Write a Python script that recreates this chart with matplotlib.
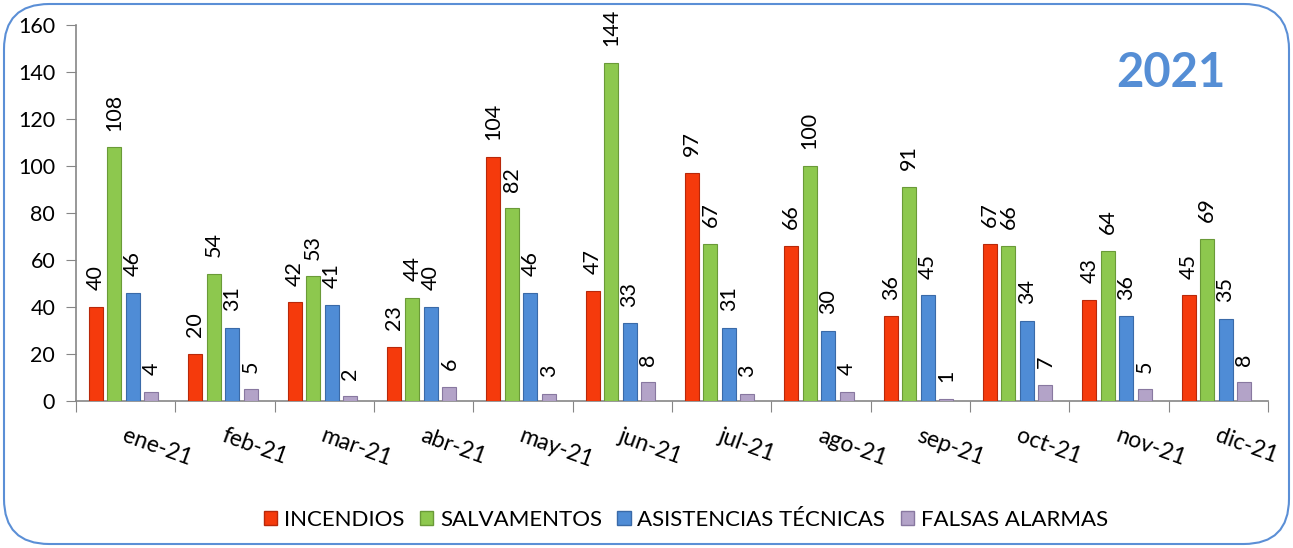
import matplotlib
matplotlib.use("Agg")
import matplotlib.pyplot as plt
import numpy as np
from matplotlib.patches import FancyBboxPatch, Patch
import matplotlib.transforms as mtransforms

months = ["ene-21", "feb-21", "mar-21", "abr-21", "may-21", "jun-21",
          "jul-21", "ago-21", "sep-21", "oct-21", "nov-21", "dic-21"]
series_names = ["INCENDIOS", "SALVAMENTOS", "ASISTENCIAS TÉCNICAS", "FALSAS ALARMAS"]
incendios = [40, 20, 42, 23, 104, 47, 97, 66, 36, 67, 43, 45]
salvamentos = [108, 54, 53, 44, 82, 144, 67, 100, 91, 66, 64, 69]
asistencias = [46, 31, 41, 40, 46, 33, 31, 30, 45, 34, 36, 35]
falsas = [4, 5, 2, 6, 3, 8, 3, 4, 1, 7, 5, 8]
yticks = [0, 20, 40, 60, 80, 100, 120, 140, 160]
title = "2021"

colors = ["#F53A0C", "#8DC84E", "#4F8CD6", "#B3A3C8"]
edges = ["#B8280A", "#6A9A38", "#3A6AA8", "#8878A0"]

plt.rcParams['font.family'] = ['Lato', 'DejaVu Sans']

fig = plt.figure(figsize=(12.93, 5.48), dpi=100)
ax = fig.add_axes([76/1293, 1-401/548, (1268-76)/1293, (401-25)/548])

data = [incendios, salvamentos, asistencias, falsas]
x = np.arange(len(months))
bw = 0.14
step = 0.186
for i, (vals, c, ec) in enumerate(zip(data, colors, edges)):
    pos = x + (i - 1.5) * step - 0.02
    bars = ax.bar(pos, vals, width=bw, color=c, edgecolor=ec, linewidth=0.8, zorder=3)
    for b, v in zip(bars, vals):
        ax.annotate(str(v), (b.get_x() + b.get_width()/2, v), xytext=(0, 12),
                    textcoords="offset points", rotation=90, ha="center", va="bottom",
                    fontsize=15.5, color="black")

ax.set_xlim(-0.5, len(months) - 0.5)
ax.set_ylim(0, 160)
ax.set_yticks(yticks)
ax.set_yticklabels([str(t) for t in yticks], fontsize=15.5)
ax.set_xticks(np.arange(len(months) + 1) - 0.5)
ax.set_xticklabels([])
ax.tick_params(axis="y", direction="out", length=7, color="#868686", pad=8)
ax.tick_params(axis="x", direction="out", length=8, color="#868686")
for s in ["top", "right"]:
    ax.spines[s].set_visible(False)
for s in ["left", "bottom"]:
    ax.spines[s].set_color("#868686")
    ax.spines[s].set_linewidth(1.2)

offset = mtransforms.ScaledTranslation(1/100, -24/100, fig.dpi_scale_trans)
trans = ax.get_xaxis_transform() + offset
for xi, m in zip(x, months):
    ax.text(xi, 0, m, transform=trans, rotation=-20, rotation_mode="anchor",
            ha="left", va="top", fontsize=16.5)

fig.text(1171/1293, 1-73/548, title, color="#558ED5", fontsize=34,
         fontweight="bold", ha="center", va="center")

handles = [Patch(facecolor=c, edgecolor=ec, label=n) for c, ec, n in zip(colors, edges, series_names)]
fig.legend(handles=handles, loc="center", bbox_to_anchor=(686/1293, 1-520/548), ncol=4,
           frameon=False, fontsize=16, handlelength=0.6, handleheight=0.6,
           handletextpad=0.3, columnspacing=0.7)

border = FancyBboxPatch((4/1293, 4/548), 1-8/1293, 1-8/548,
                        boxstyle="round,pad=0,rounding_size=0.035",
                        transform=fig.transFigure, facecolor="none",
                        edgecolor="#5B8FD6", linewidth=1.5,
                        mutation_aspect=1293/548)
fig.patches.append(border)

fig.savefig("out.png", dpi=100)
